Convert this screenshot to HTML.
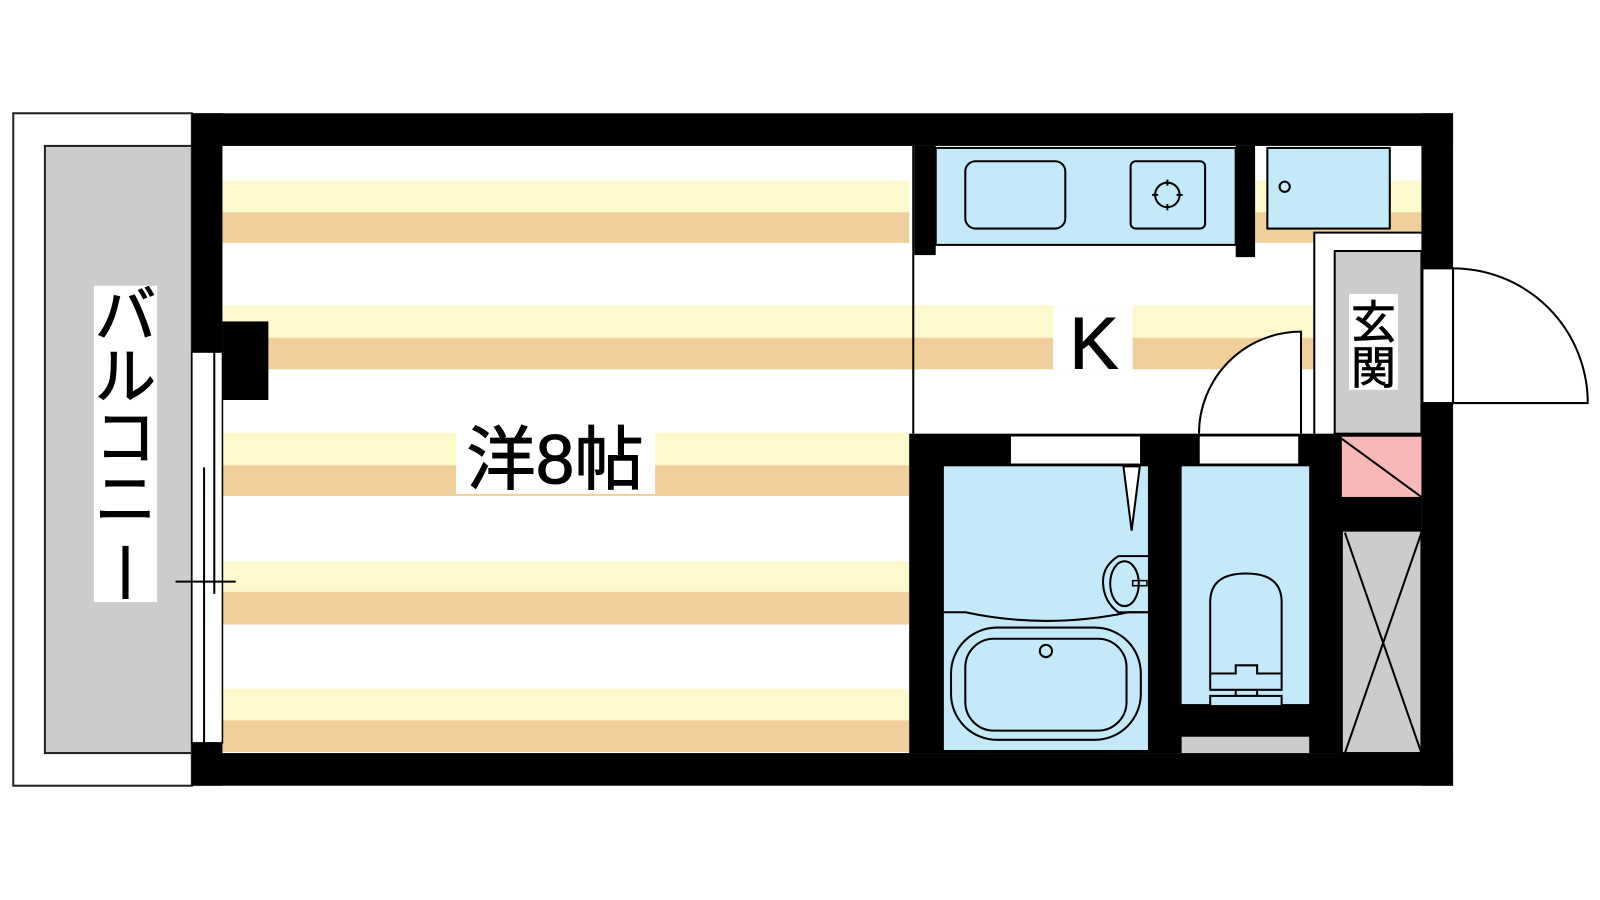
<!DOCTYPE html>
<html><head><meta charset="utf-8"><style>
html,body{margin:0;padding:0;background:#fff;width:1600px;height:900px;overflow:hidden}
svg{display:block}
text{font-family:"Liberation Sans","Noto Sans CJK JP",sans-serif}
</style></head><body>
<svg width="1600" height="900" viewBox="0 0 1568 882" preserveAspectRatio="none" xmlns="http://www.w3.org/2000/svg">
<rect width="1568" height="882" fill="#fff"/>
<rect x="13" y="111" width="175" height="659" fill="#fff" stroke="#222" stroke-width="2"/>
<rect x="44" y="143" width="144" height="595" fill="#ccc" stroke="#222" stroke-width="2"/>
<rect x="92" y="280" width="62" height="310" fill="#fff"/>
<g font-size="60" text-anchor="middle" fill="#000" stroke="#000" stroke-width="1">
<text x="123" y="330">バ</text>
<text x="123" y="390">ル</text>
<text x="123" y="450">コ</text>
<text x="123" y="510">ニ</text>
</g>
<rect x="120" y="535" width="6" height="52" fill="#000"/>
<g>
<rect x="218" y="177" width="673" height="31" fill="#fef9cc"/><rect x="218" y="208" width="673" height="30" fill="#f0cf9a"/>
<rect x="218" y="299" width="1070" height="32" fill="#fef9cc"/><rect x="218" y="331" width="1070" height="31" fill="#f0cf9a"/>
<rect x="218" y="424" width="673" height="32" fill="#fef9cc"/><rect x="218" y="456" width="673" height="30" fill="#f0cf9a"/>
<rect x="218" y="550" width="673" height="30" fill="#fef9cc"/><rect x="218" y="580" width="673" height="32" fill="#f0cf9a"/>
<rect x="218" y="675" width="673" height="31" fill="#fef9cc"/><rect x="218" y="706" width="673" height="31" fill="#f0cf9a"/>
<rect x="1230" y="177" width="163" height="31" fill="#fef9cc"/><rect x="1230" y="208" width="163" height="30" fill="#f0cf9a"/>
</g>
<rect x="896" y="250" width="392" height="49" fill="#fff"/>
<rect x="896" y="362" width="392" height="63" fill="#fff"/>
<rect x="1288" y="228" width="105" height="197" fill="#fff"/>
<line x1="895" y1="143" x2="895" y2="425" stroke="#000" stroke-width="2"/>
<rect x="1032" y="299" width="78" height="63" fill="#fff"/>
<text x="1072" y="361" font-size="72" text-anchor="middle" stroke="#000" stroke-width="1">K</text>
<rect x="917" y="145" width="294" height="95" fill="#c4e9f8" stroke="#000" stroke-width="2"/>
<rect x="946" y="158" width="98" height="66" rx="10" fill="none" stroke="#000" stroke-width="2"/>
<rect x="1108" y="158" width="73" height="66" rx="5" fill="none" stroke="#000" stroke-width="2"/>
<circle cx="1144" cy="191" r="12" fill="none" stroke="#000" stroke-width="2"/>
<path d="M1144 176v6M1144 200v6M1129 191h6M1153 191h6" stroke="#000" stroke-width="2"/>
<rect x="896" y="143" width="21" height="107" fill="#000"/>
<rect x="1211" y="143" width="19" height="109" fill="#000"/>
<rect x="1242" y="145" width="120" height="79" fill="#c4e9f8" stroke="#000" stroke-width="2"/>
<circle cx="1259" cy="183" r="5" fill="none" stroke="#000" stroke-width="2"/>
<path d="M1288 425V228H1393" fill="none" stroke="#000" stroke-width="2"/>
<rect x="1308" y="246" width="85" height="179" fill="#ccc" stroke="#000" stroke-width="2"/>
<rect x="1322" y="288" width="48" height="94" fill="#fff"/>
<text x="1346" y="331" font-size="44" text-anchor="middle" stroke="#000" stroke-width="0.8">玄</text>
<text x="1346" y="376" font-size="44" text-anchor="middle" stroke="#000" stroke-width="0.8">関</text>
<path d="M1275 425V325A100 100 0 0 0 1175 425" fill="#fff" stroke="#000" stroke-width="2"/>
<rect x="188" y="111" width="1236" height="32" fill="#000"/>
<rect x="188" y="738" width="1236" height="32" fill="#000"/>
<rect x="188" y="111" width="30" height="234" fill="#000"/>
<rect x="188" y="728" width="30" height="42" fill="#000"/>
<rect x="218" y="315" width="45" height="77" fill="#000"/>
<rect x="1393" y="111" width="31" height="152" fill="#000"/>
<rect x="1393" y="395" width="31" height="375" fill="#000"/>
<rect x="188" y="345" width="30" height="383" fill="#fff" stroke="#000" stroke-width="1.5"/>
<line x1="200" y1="458" x2="200" y2="728" stroke="#000" stroke-width="2"/>
<line x1="210" y1="345" x2="210" y2="582" stroke="#000" stroke-width="2"/>
<line x1="172" y1="570" x2="231" y2="570" stroke="#000" stroke-width="2"/>
<rect x="1394" y="263" width="30" height="132" fill="#fff" stroke="#000" stroke-width="2"/>
<path d="M1424 263A132 132 0 0 1 1556 395H1424" fill="#fff" stroke="#000" stroke-width="2"/>
<line x1="1424" y1="263" x2="1424" y2="395" stroke="#000" stroke-width="2"/>
<rect x="891" y="425" width="502" height="313" fill="#000"/>
<rect x="925" y="457" width="200" height="278" fill="#c4e9f8"/>
<rect x="1158" y="457" width="125" height="233" fill="#c4e9f8"/>
<rect x="1158" y="722" width="125" height="16" fill="#ccc"/>
<rect x="990" y="427" width="128" height="28" fill="#fff" stroke="#000" stroke-width="1.5"/>
<rect x="1175" y="427" width="98" height="28" fill="#fff" stroke="#000" stroke-width="1.5"/>
<path d="M1101 457L1109 520L1117 457Z" fill="#fff" stroke="#000" stroke-width="2"/>
<path d="M925 600H946Q1026 617 1106 600H1125" fill="none" stroke="#000" stroke-width="2"/>
<path d="M1125 545H1096Q1080 555 1081 572Q1082 590 1096 600H1125" fill="none" stroke="#000" stroke-width="2"/>
<ellipse cx="1102" cy="572" rx="14" ry="22" fill="none" stroke="#000" stroke-width="2"/>
<rect x="1110" y="569" width="14" height="5" fill="none" stroke="#000" stroke-width="1.5"/>
<rect x="932" y="615" width="186" height="110" rx="45" fill="none" stroke="#000" stroke-width="2"/>
<rect x="946" y="626" width="158" height="90" rx="28" fill="none" stroke="#000" stroke-width="2"/>
<circle cx="1025" cy="638" r="6" fill="none" stroke="#000" stroke-width="2"/>
<path d="M1186 660V590Q1186 562 1221 562Q1256 562 1256 590V660" fill="none" stroke="#000" stroke-width="2"/>
<path d="M1186 660H1211V652H1232V660H1256V676H1186Z" fill="none" stroke="#000" stroke-width="2"/>
<path d="M1211 676V682H1232V676" fill="none" stroke="#000" stroke-width="2"/>
<rect x="1186" y="682" width="70" height="10" fill="#c4e9f8" stroke="#000" stroke-width="2"/>
<rect x="1315" y="428" width="78" height="59" fill="#f8b8b8"/>
<line x1="1315" y1="430" x2="1393" y2="487" stroke="#000" stroke-width="2"/>
<rect x="1315" y="520" width="78" height="218" fill="#ccc" stroke="#000" stroke-width="2"/>
<path d="M1318 522L1393 738M1393 522L1318 738" stroke="#000" stroke-width="2"/>
<rect x="447" y="412" width="195" height="72" fill="#fff"/>
<text x="544" y="474" font-size="68" text-anchor="middle" stroke="#000" stroke-width="1">洋8帖</text>
</svg>
</body></html>
